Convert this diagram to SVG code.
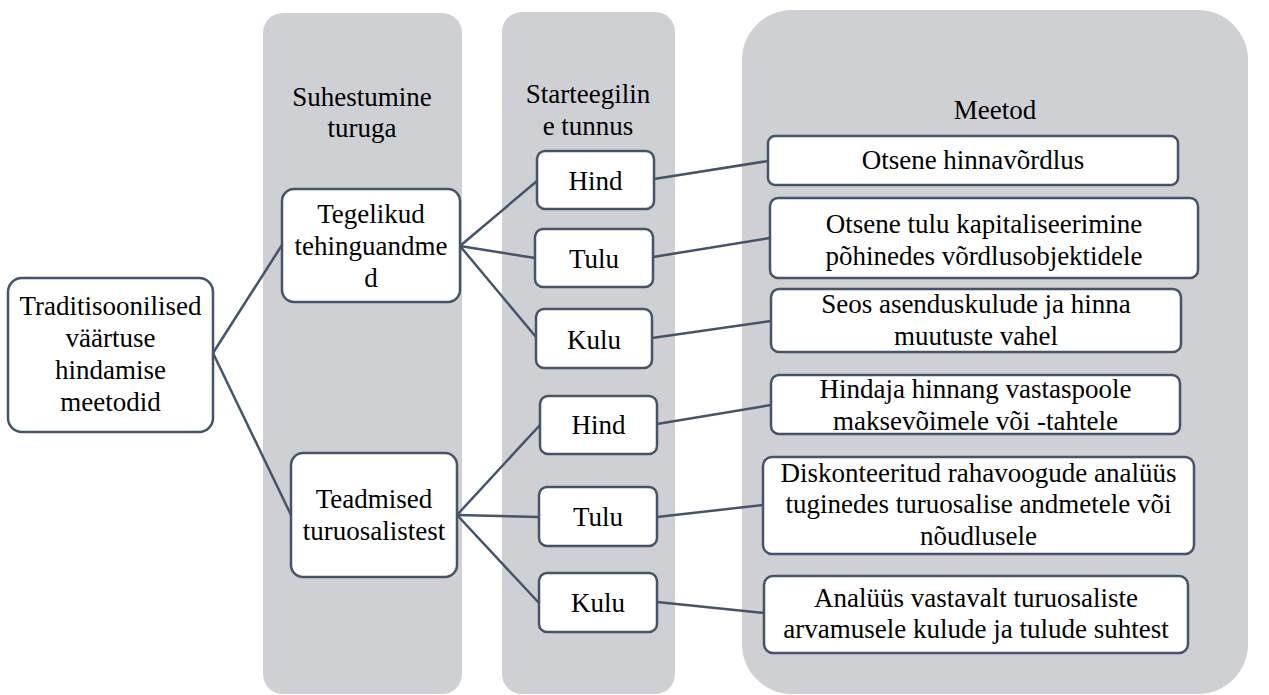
<svg xmlns="http://www.w3.org/2000/svg" width="1269" height="695" viewBox="0 0 1269 695">
<style>
.col{fill:#cfd0d4;stroke:none}
.box{fill:#ffffff;stroke:#44546a;stroke-width:2.5}
.t{font-family:"Liberation Serif","Times New Roman",serif;font-size:27px;fill:#000;text-anchor:middle}
.c{stroke:#44546a;stroke-width:2.5;fill:none}
</style>
<rect width="1269" height="695" fill="#ffffff"/>
<g id="columns">
<rect class="col" x="263" y="13" width="199" height="681" rx="20"/>
<rect class="col" x="502" y="12" width="173" height="682" rx="20"/>
<rect class="col" x="742" y="10" width="506" height="684" rx="50"/>
<text class="t" x="362" y="106">Suhestumine</text>
<text class="t" x="362" y="137">turuga</text>
<text class="t" x="588" y="103">Starteegilin</text>
<text class="t" x="588" y="135">e tunnus</text>
<text class="t" x="995" y="119">Meetod</text>
</g>
<g id="connectors">
<line class="c" x1="213" y1="353" x2="282" y2="245"/>
<line class="c" x1="213" y1="353" x2="291" y2="515"/>
<line class="c" x1="460" y1="246" x2="537" y2="181"/>
<line class="c" x1="460" y1="246" x2="535" y2="258"/>
<line class="c" x1="460" y1="246" x2="536" y2="337"/>
<line class="c" x1="457" y1="515" x2="540" y2="425"/>
<line class="c" x1="457" y1="515" x2="539" y2="517"/>
<line class="c" x1="457" y1="515" x2="539" y2="603"/>
<line class="c" x1="654" y1="179" x2="768" y2="161"/>
<line class="c" x1="653" y1="257" x2="770" y2="238"/>
<line class="c" x1="652" y1="338" x2="771" y2="321"/>
<line class="c" x1="657" y1="424" x2="771" y2="405"/>
<line class="c" x1="657" y1="517" x2="763" y2="505"/>
<line class="c" x1="657" y1="602" x2="764" y2="613"/>
</g>
<g id="root">
<rect class="box" x="8" y="278" width="205" height="154" rx="14"/>
<text class="t" x="110.5" y="315">Traditisoonilised</text>
<text class="t" x="110.5" y="347">väärtuse</text>
<text class="t" x="110.5" y="379">hindamise</text>
<text class="t" x="110.5" y="411">meetodid</text>
</g>
<g id="tegelikud">
<rect class="box" x="282" y="189" width="178" height="113" rx="12"/>
<text class="t" x="371" y="223">Tegelikud</text>
<text class="t" x="371" y="255">tehinguandme</text>
<text class="t" x="371" y="287">d</text>
</g>
<g id="teadmised">
<rect class="box" x="291" y="453" width="166" height="124" rx="12"/>
<text class="t" x="374" y="508">Teadmised</text>
<text class="t" x="374" y="540">turuosalistest</text>
</g>
<g id="hind1">
<rect class="box" x="537" y="151" width="117" height="58" rx="8"/>
<text class="t" x="595.5" y="190">Hind</text>
</g>
<g id="tulu1">
<rect class="box" x="535" y="229" width="118" height="58" rx="8"/>
<text class="t" x="594" y="268">Tulu</text>
</g>
<g id="kulu1">
<rect class="box" x="536" y="309" width="116" height="59" rx="8"/>
<text class="t" x="594" y="349">Kulu</text>
</g>
<g id="hind2">
<rect class="box" x="540" y="396" width="117" height="58" rx="8"/>
<text class="t" x="598.5" y="434">Hind</text>
</g>
<g id="tulu2">
<rect class="box" x="539" y="487" width="118" height="59" rx="8"/>
<text class="t" x="598" y="526">Tulu</text>
</g>
<g id="kulu2">
<rect class="box" x="539" y="573" width="118" height="59" rx="8"/>
<text class="t" x="598" y="612">Kulu</text>
</g>
<g id="m1">
<rect class="box" x="768" y="136" width="410" height="49" rx="7"/>
<text class="t" x="973" y="169">Otsene hinnavõrdlus</text>
</g>
<g id="m2">
<rect class="box" x="770" y="198" width="428" height="80" rx="8"/>
<text class="t" x="984" y="233">Otsene tulu kapitaliseerimine</text>
<text class="t" x="984" y="265">põhinedes võrdlusobjektidele</text>
</g>
<g id="m3">
<rect class="box" x="771" y="289" width="410" height="63" rx="8"/>
<text class="t" x="976" y="313">Seos asenduskulude ja hinna</text>
<text class="t" x="976" y="345">muutuste vahel</text>
</g>
<g id="m4">
<rect class="box" x="771" y="375" width="409" height="59" rx="8"/>
<text class="t" x="975.5" y="398">Hindaja hinnang vastaspoole</text>
<text class="t" x="975.5" y="430">maksevõimele või -tahtele</text>
</g>
<g id="m5">
<rect class="box" x="763" y="457" width="431" height="97" rx="9"/>
<text class="t" x="978.5" y="482">Diskonteeritud rahavoogude analüüs</text>
<text class="t" x="978.5" y="513">tuginedes turuosalise andmetele või</text>
<text class="t" x="978.5" y="545">nõudlusele</text>
</g>
<g id="m6">
<rect class="box" x="764" y="576" width="424" height="77" rx="9"/>
<text class="t" x="976" y="607">Analüüs vastavalt turuosaliste</text>
<text class="t" x="976" y="638">arvamusele kulude ja tulude suhtest</text>
</g>
</svg>
